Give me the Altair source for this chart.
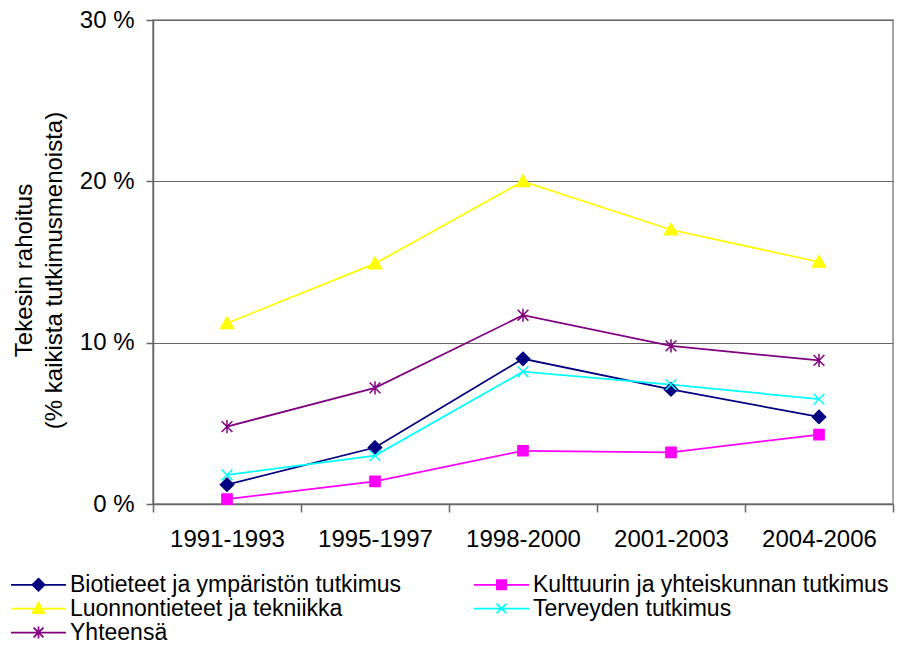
import altair as alt
import pandas as pd

periods = ["1991-1993", "1995-1997", "1998-2000", "2001-2003", "2004-2006"]
series_names = [
    "Biotieteet ja ympäristön tutkimus",
    "Kulttuurin ja yhteiskunnan tutkimus",
    "Luonnontieteet ja tekniikka",
    "Terveyden tutkimus",
    "Yhteensä",
]
biotieteet = [1.2, 3.5, 9.0, 7.1, 5.4]
kulttuuri = [0.3, 1.4, 3.3, 3.2, 4.3]
luonnontieteet = [11.2, 14.9, 20.0, 17.0, 15.0]
terveys = [1.8, 3.0, 8.2, 7.4, 6.5]
yhteensa = [4.8, 7.2, 11.7, 9.8, 8.9]
y_ticks = [0, 10, 20, 30]

colors = ["#000080", "#FF00FF", "#FFFF00", "#00FFFF", "#800080"]
marker_paths = [
    "M0,-1.1L1.1,0L0,1.1L-1.1,0Z",
    "M-0.85,-0.85H0.85V0.85H-0.85Z",
    "M0,-1.05L1.1,0.85H-1.1Z",
    "M-0.9,-0.9L0.9,0.9M-0.9,0.9L0.9,-0.9",
    "M-0.9,-0.9L0.9,0.9M-0.9,0.9L0.9,-0.9M0,-1.1V1.1",
]
legend_paths = ["M-5,0H5M" + p[1:] for p in marker_paths]

values = [biotieteet, kulttuuri, luonnontieteet, terveys, yhteensa]
rows = []
for name, vals in zip(series_names, values):
    for p, v in zip(periods, vals):
        rows.append({"period": p, "series": name, "value": v})
df = pd.DataFrame(rows)

FONT = "Liberation Sans"
FS = 24
LFS = 23

x_enc = alt.X(
    "period:N",
    sort=periods,
    scale=alt.Scale(type="band", domain=periods, paddingInner=0, paddingOuter=0),
    axis=alt.Axis(
        title=None,
        labelAngle=0,
        tickBand="extent",
        tickSize=8,
        labelPadding=15,
        grid=False,
    ),
)
y_enc = alt.Y(
    "value:Q",
    scale=alt.Scale(domain=[0, 30], nice=False, zero=True),
    axis=alt.Axis(
        values=y_ticks,
        labelExpr="datum.value + ' %'",
        grid=True,
        tickSize=7,
        labelPadding=12,
        title=["Tekesin rahoitus", "(% kaikista tutkimusmenoista)"],
        titleAngle=270,
        titleBaseline="top",
        titleAlign="center",
        titleX=-141,
        titleY=250,
        titleLineHeight=30,
    ),
)

col_scale = alt.Scale(domain=series_names, range=colors)

lines = alt.Chart(df).mark_line(strokeWidth=1.75).encode(
    x=x_enc,
    y=y_enc,
    stroke=alt.Stroke("series:N", scale=col_scale, legend=None),
)

points = alt.Chart(df).mark_point(filled=True, size=144, strokeWidth=1.5, opacity=1).encode(
    x=x_enc,
    y=y_enc,
    fill=alt.Fill("series:N", scale=col_scale, legend=None),
    stroke=alt.Stroke("series:N", scale=col_scale, legend=None),
    shape=alt.Shape("series:N", scale=alt.Scale(domain=series_names, range=marker_paths), legend=None),
)

leg = alt.Legend(
    title=None,
    orient="none",
    direction="horizontal",
    legendX=-141,
    legendY=553,
    columns=2,
    columnPadding=68,
    rowPadding=0,
    symbolSize=121,
    symbolStrokeWidth=1.75,
    symbolOffset=15,
    labelOffset=20,
    labelLimit=600,
    labelFont=FONT,
    labelFontSize=LFS,
    labelColor="#000000",
    padding=0,
)

legend_layer = alt.Chart(df).transform_filter("false").mark_point(filled=True, size=144, opacity=1).encode(
    x=x_enc,
    y=y_enc,
    fill=alt.Fill("series:N", scale=col_scale, legend=leg),
    stroke=alt.Stroke("series:N", scale=col_scale, legend=leg),
    shape=alt.Shape("series:N", scale=alt.Scale(domain=series_names, range=legend_paths), legend=leg),
)

chart = (
    alt.layer(lines, points, legend_layer)
    .resolve_scale(fill="independent", stroke="independent", shape="independent")
    .properties(
        width=740,
        height=484,
        autosize=alt.AutoSizeParams(type="none"),
        padding={"left": 145, "top": 12, "right": 15, "bottom": 136},
    )
    .configure_view(stroke="#888888", strokeWidth=1.5)
    .configure_axis(
        labelFont=FONT,
        labelFontSize=FS,
        labelColor="#000000",
        titleFont=FONT,
        titleFontSize=FS,
        titleFontWeight="normal",
        titleColor="#000000",
        domainColor="#666666",
        tickColor="#666666",
        gridColor="#666666",
        domainWidth=1.5,
        tickWidth=1.5,
    )
)

chart.save("out.html", embed_options={"renderer": "svg", "actions": False})
